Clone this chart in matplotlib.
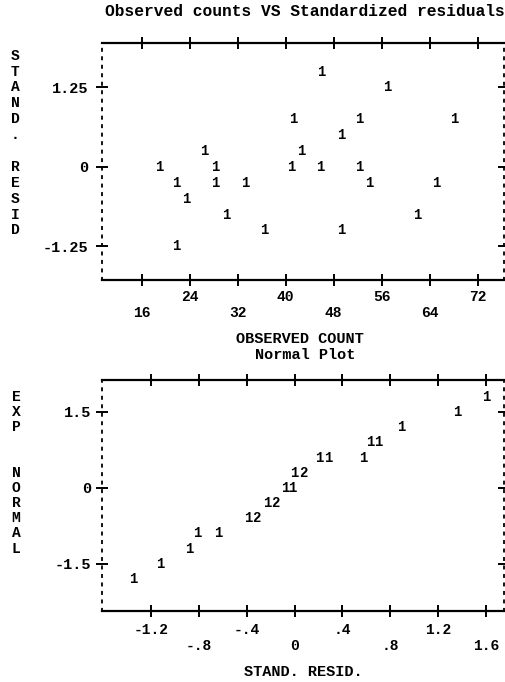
import matplotlib
matplotlib.use("Agg")
import matplotlib.pyplot as plt
import matplotlib.transforms as mtransforms

# ---------------- data ----------------
title = "Observed counts VS Standardized residuals"
top_xlabel = "OBSERVED COUNT"
bottom_title = "Normal Plot"
bottom_xlabel = "STAND. RESID."
top_ylabel = "STAND. RESID"
bottom_ylabel = "EXP  NORMAL"

# top panel: observed count vs standardized residual (each printed as "1")
observed = [46, 57, 41.2, 52.3, 68.1, 49.3, 26.5, 42.6,
            19.0, 28.2, 40.9, 45.7, 52.3,
            21.8, 28.2, 33.2, 54.0, 65.1,
            23.5, 30.1, 62.0, 36.5, 49.3, 21.8]
std_resid = [1.5, 1.25, 0.75, 0.75, 0.75, 0.5, 0.25, 0.25,
             0, 0, 0, 0, 0,
             -0.25, -0.25, -0.25, -0.25, -0.25,
             -0.5, -0.75, -0.75, -1.0, -1.0, -1.25]

top_row1_ticks = [24, 40, 56, 72]
top_row2_ticks = [16, 32, 48, 64]
top_yticks = [1.25, 0, -1.25]
top_yticklabels = ["1.25", "0", "-1.25"]

# bottom panel: normal plot (stand. resid vs expected normal), with cell counts
np_resid = [1.60, 1.36, 0.89, 0.63, 0.70, 0.21, 0.28, 0.57,
            0.00, 0.075, -0.075, -0.017, -0.23, -0.16,
            -0.39, -0.32, -0.81, -0.64, -0.88, -1.12, -1.35]
np_normal = [1.8, 1.5, 1.2, 0.9, 0.9, 0.6, 0.6, 0.6,
             0.3, 0.3, 0.0, 0.0, -0.3, -0.3,
             -0.6, -0.6, -0.9, -0.9, -1.2, -1.5, -1.8]
np_count = [1, 1, 1, 1, 1, 1, 1, 1,
            1, 2, 1, 1, 1, 2,
            1, 2, 1, 1, 1, 1, 1]

bot_row1_ticks = [-1.2, -0.4, 0.4, 1.2]
bot_row1_labels = ["-1.2", "-.4", ".4", "1.2"]
bot_row2_ticks = [-0.8, 0.0, 0.8, 1.6]
bot_row2_labels = ["-.8", "0", ".8", "1.6"]
bot_yticks = [1.5, 0, -1.5]
bot_yticklabels = ["1.5", "0", "-1.5"]

# ---------------- style ----------------
plt.rcParams['font.family'] = ['Liberation Mono', 'DejaVu Sans Mono']
plt.rcParams['font.weight'] = 'bold'
plt.rcParams['axes.unicode_minus'] = False

W, H = 506, 682
fig = plt.figure(figsize=(W / 100, H / 100), dpi=100)
fig.patch.set_facecolor('white')


def frac_box(left, top, right, bottom):
    return [left / W, 1 - bottom / H, (right - left) / W, (bottom - top) / H]


def style_axes(ax):
    for s in ('top', 'bottom'):
        ax.spines[s].set_linewidth(1.6)
        ax.spines[s].set_color('black')
    for s in ('left', 'right'):
        ax.spines[s].set_linewidth(1.3)
        ax.spines[s].set_linestyle((0, (1.2, 3.5)))
        ax.spines[s].set_color('black')
    ax.tick_params(which='both', direction='inout', length=8, width=1.4,
                   top=True, bottom=True, left=True, right=True,
                   labelsize=10.5, colors='black')


ax1 = fig.add_axes(frac_box(102, 43, 504, 280))
ax2 = fig.add_axes(frac_box(102, 380, 504, 611))

# ---- top panel ----
ax1.set_xlim(9.4, 76.4)
ax1.set_ylim(-1.78, 1.95)
for x, y in zip(observed, std_resid):
    ax1.text(x, y, "1", ha='center', va='center', fontsize=10,
             fontweight='bold', color='black')
style_axes(ax1)
ax1.set_xticks(top_row1_ticks)
ax1.set_xticklabels([str(t) for t in top_row1_ticks])
ax1.set_xticks(top_row2_ticks, minor=True)
ax1.set_xticklabels([str(t) for t in top_row2_ticks], minor=True)
ax1.tick_params(axis='x', which='major', pad=3)
ax1.tick_params(axis='x', which='minor', pad=15)
ax1.set_yticks(top_yticks)
ax1.set_yticklabels(top_yticklabels)
ax1.tick_params(axis='y', pad=6, labelsize=11)

# ---- bottom panel ----
ax2.set_xlim(-1.61, 1.75)
ax2.set_ylim(-2.43, 2.13)
for x, y, c in zip(np_resid, np_normal, np_count):
    ax2.text(x, y, str(c), ha='center', va='center', fontsize=10,
             fontweight='bold', color='black')
style_axes(ax2)
ax2.set_xticks(bot_row1_ticks)
ax2.set_xticklabels(bot_row1_labels)
ax2.set_xticks(bot_row2_ticks, minor=True)
ax2.set_xticklabels(bot_row2_labels, minor=True)
ax2.tick_params(axis='x', which='major', pad=5)
ax2.tick_params(axis='x', which='minor', pad=16)
ax2.set_yticks(bot_yticks)
ax2.set_yticklabels(bot_yticklabels)
ax2.tick_params(axis='y', pad=4, labelsize=11)

# ---- vertical stacked y labels ----
tr1 = mtransforms.blended_transform_factory(fig.transFigure, ax1.transData)
for i, ch in enumerate(top_ylabel):
    ax1.text(15 / W, 1.75 - 0.25 * i, ch, transform=tr1, ha='center',
             va='center', fontsize=10.5, fontweight='bold')
tr2 = mtransforms.blended_transform_factory(fig.transFigure, ax2.transData)
for i, ch in enumerate(bottom_ylabel):
    ax2.text(16 / W, 1.8 - 0.3 * i, ch, transform=tr2, ha='center',
             va='center', fontsize=10.5, fontweight='bold')

# ---- titles / labels ----
fig.text(305 / W, 1 - 12 / H, title, ha='center', va='center',
         fontsize=11.7, fontweight='bold')
fig.text(300 / W, 1 - 339 / H, top_xlabel, ha='center', va='center',
         fontsize=11, fontweight='bold')
fig.text(305 / W, 1 - 355 / H, bottom_title, ha='center', va='center',
         fontsize=11, fontweight='bold')
fig.text(303 / W, 1 - 672 / H, bottom_xlabel, ha='center', va='center',
         fontsize=11, fontweight='bold')

fig.savefig("out.png", dpi=100, facecolor='white')
